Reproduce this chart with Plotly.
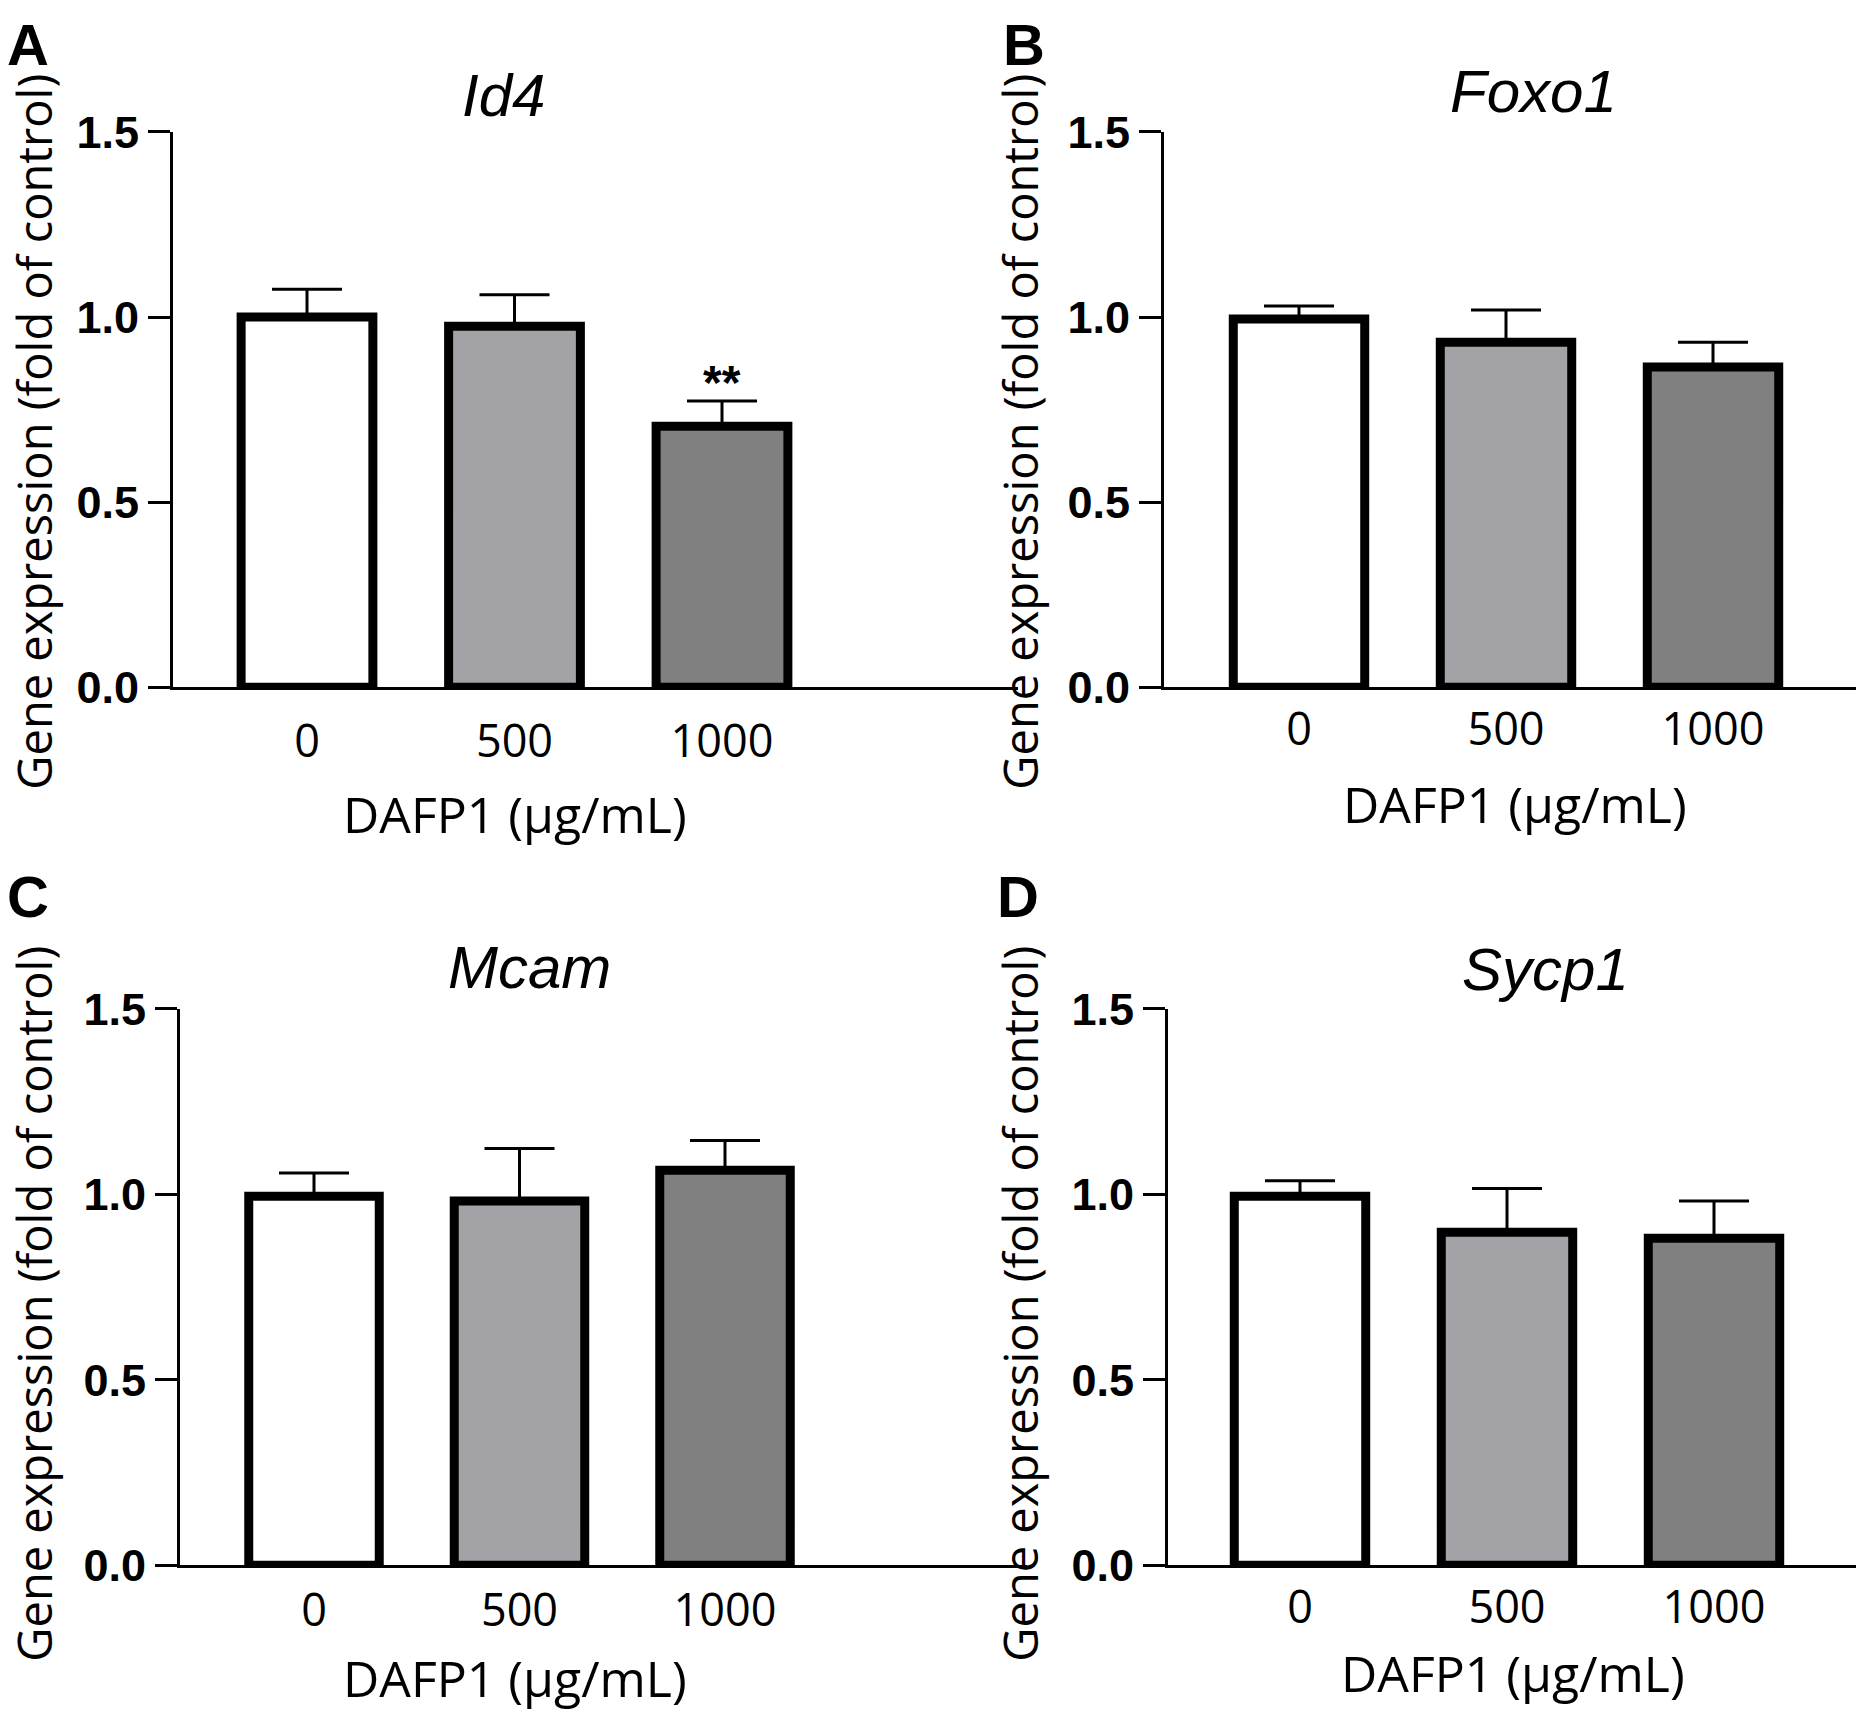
import plotly.graph_objects as go

W, H = 1856, 1713

doses = ["0", "500", "1000"]
genes = ["Id4", "Foxo1", "Mcam", "Sycp1"]
panel_letters = ["A", "B", "C", "D"]

id4_mean = [1.00, 0.975, 0.705]
id4_sem = [0.075, 0.085, 0.068]
foxo1_mean = [0.995, 0.932, 0.865]
foxo1_sem = [0.035, 0.087, 0.067]
mcam_mean = [0.995, 0.982, 1.065]
mcam_sem = [0.063, 0.142, 0.080]
sycp1_mean = [0.995, 0.898, 0.882]
sycp1_sem = [0.042, 0.118, 0.100]

id4_sig = ["", "", "**"]

means = [id4_mean, foxo1_mean, mcam_mean, sycp1_mean]
sems = [id4_sem, foxo1_sem, mcam_sem, sycp1_sem]
sigs = [id4_sig, ["", "", ""], ["", "", ""], ["", "", ""]]

y_ticks = [0.0, 0.5, 1.0, 1.5]
y_ticktext = ["0.0", "0.5", "1.0", "1.5"]

bar_colors = ["#ffffff", "#a3a3a7", "#808080"]


def ry(px):
    # vertical placement correction measured on the rendered picture
    return (px - 30.3) / 0.968


# layout geometry (pixels)
panels = [
    dict(x0=173, x1=1018, ytop=ry(137), ybot=ry(691), c0=134, sp=207.5, stand=13, xt=ry(817), xtx=515,
         yt=ry(436), ytx=34, title=(503, ry(101)), letter=(28, 20)),
    dict(x0=1164, x1=1856, ytop=ry(137), ybot=ry(691), c0=135, sp=207, stand=1, xt=ry(808), xtx=1515,
         yt=ry(436), ytx=1020, title=(1533, ry(97)), letter=(1024, 20)),
    dict(x0=180, x1=1027, ytop=ry(1012), ybot=ry(1567), c0=134, sp=205.5, stand=4, xt=1704, xtx=515,
         yt=ry(1306), ytx=34, title=(529, ry(971)), letter=(28, ry(900))),
    dict(x0=1168, x1=1856, ytop=ry(1012), ybot=ry(1567), c0=132, sp=207, stand=1, xt=1699, xtx=1513,
         yt=ry(1306), ytx=1020, title=(1545, ry(973)), letter=(1018, ry(900))),
]

fig = go.Figure()
annotations = []
regular = "Open Sans, Noto Sans, sans-serif"

for i, p in enumerate(panels):
    n = "" if i == 0 else str(i + 1)
    xa = "x" + n
    ya = "y" + n
    width_px = p["x1"] - p["x0"]
    xr = [-p["c0"] / p["sp"], (width_px - p["c0"]) / p["sp"]]
    fig.add_trace(go.Bar(
        x=[0, 1, 2], y=means[i], width=0.635,
        marker=dict(color=bar_colors, line=dict(color="black", width=9)),
        error_y=dict(type="data", symmetric=False, array=sems[i], arrayminus=[0, 0, 0],
                     color="black", thickness=3, width=35),
        xaxis=xa, yaxis=ya, showlegend=False, hoverinfo="skip",
    ))
    fig.layout["xaxis" + n] = dict(
        domain=[p["x0"] / W, min(p["x1"] / W, 1.0)], range=xr, anchor=ya,
        tickvals=[0, 1, 2], ticktext=doses, ticks="", showline=True, linecolor="black",
        linewidth=2.5, showgrid=False, zeroline=False, fixedrange=True,
        tickfont=dict(family=regular, size=45, color="black"), ticklabelstandoff=p["stand"],
    )
    fig.layout["yaxis" + n] = dict(
        domain=[1 - p["ybot"] / H, 1 - p["ytop"] / H], range=[0, 1.5], anchor=xa,
        tickvals=y_ticks, ticktext=y_ticktext, ticks="outside", ticklen=22, tickwidth=3,
        tickcolor="black", showline=True, linecolor="black", linewidth=3, showgrid=False,
        zeroline=False, fixedrange=True,
        tickfont=dict(family="Liberation Sans, Arial", size=45, color="black", weight="bold"),
        ticklabelstandoff=0,
    )
    # significance markers
    for j, s in enumerate(sigs[i]):
        if s:
            annotations.append(dict(x=j, y=means[i][j] + sems[i][j], xref=xa, yref=ya,
                                    text="<b>%s</b>" % s,
                                    showarrow=False, yanchor="bottom", yshift=-10,
                                    font=dict(family="Liberation Sans, Arial", size=48, color="black")))
    # gene titles
    annotations.append(dict(x=p["title"][0] / W, y=1 - p["title"][1] / H, xref="paper", yref="paper",
                            text="<i>%s</i>" % genes[i], showarrow=False, xanchor="center", yanchor="middle",
                            font=dict(family="Liberation Sans, Arial", size=60, color="black")))
    # panel letters
    annotations.append(dict(x=p["letter"][0] / W, y=1 - p["letter"][1] / H, xref="paper", yref="paper",
                            text="<b>%s</b>" % panel_letters[i], showarrow=False, xanchor="center",
                            yanchor="middle",
                            font=dict(family="Liberation Sans, Arial", size=58, color="black")))
    # x axis title
    annotations.append(dict(x=p["xtx"] / W, y=1 - p["xt"] / H, xref="paper", yref="paper",
                            text="DAFP1 (µg/mL)", showarrow=False, xanchor="center", yanchor="middle",
                            font=dict(family=regular, size=50, color="black")))
    # y axis title
    annotations.append(dict(x=p["ytx"] / W, y=1 - p["yt"] / H, xref="paper", yref="paper",
                            text="Gene expression (fold of control)", showarrow=False, textangle=-90,
                            xanchor="center", yanchor="middle",
                            font=dict(family=regular, size=47, color="black")))

fig.update_layout(
    width=W, height=H, margin=dict(l=0, r=0, t=0, b=0),
    paper_bgcolor="white", plot_bgcolor="white",
    annotations=annotations,
)

fig.write_html(
    "out.html", config={"displayModeBar": False},
    post_script=("document.documentElement.style.margin='0';document.documentElement.style.padding='0';"
                 "document.documentElement.style.overflow='hidden';"
                 "document.body.style.margin='0';document.body.style.padding='0';"
                 "document.body.style.overflow='hidden';"),
)
